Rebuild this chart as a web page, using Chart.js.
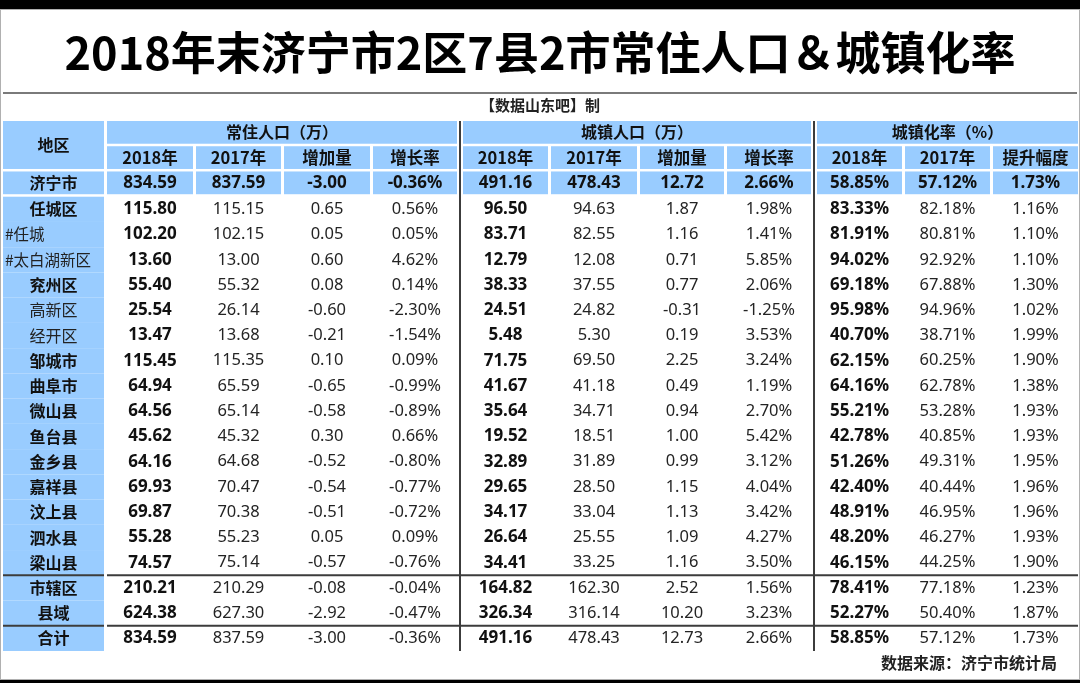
<!DOCTYPE html>
<html lang="zh-CN">
<head>
<meta charset="utf-8">
<title>2018年末济宁市2区7县2市常住人口＆城镇化率</title>
<script src="https://cdn.jsdelivr.net/npm/chart.js@4.4.1/dist/chart.umd.min.js"></script>
<style>
  html, body { margin: 0; padding: 0; background: #fff; }
  #wrap { width: 1080px; height: 683px; }
</style>
</head>
<body>
<div id="wrap"><canvas id="table" width="1080" height="683"></canvas></div>
<script>
const regions = ['济宁市', '任城区', '#任城', '#太白湖新区', '兖州区', '高新区', '经开区', '邹城市', '曲阜市',
  '微山县', '鱼台县', '金乡县', '嘉祥县', '汶上县', '泗水县', '梁山县', '市辖区', '县域', '合计'];

const groupHeaders = ['常住人口（万）', '城镇人口（万）', '城镇化率（%）'];
const subHeaders = ['2018年', '2017年', '增加量', '增长率', '2018年', '2017年', '增加量', '增长率', '2018年', '2017年', '提升幅度'];

// 常住人口（万）
const pop2018 = [834.59, 115.80, 102.20, 13.60, 55.40, 25.54, 13.47, 115.45, 64.94, 64.56, 45.62, 64.16, 69.93, 69.87, 55.28, 74.57, 210.21, 624.38, 834.59];
const pop2017 = [837.59, 115.15, 102.15, 13.00, 55.32, 26.14, 13.68, 115.35, 65.59, 65.14, 45.32, 64.68, 70.47, 70.38, 55.23, 75.14, 210.29, 627.30, 837.59];
const popChange = [-3.00, 0.65, 0.05, 0.60, 0.08, -0.60, -0.21, 0.10, -0.65, -0.58, 0.30, -0.52, -0.54, -0.51, 0.05, -0.57, -0.08, -2.92, -3.00];
const popRate = [-0.36, 0.56, 0.05, 4.62, 0.14, -2.30, -1.54, 0.09, -0.99, -0.89, 0.66, -0.80, -0.77, -0.72, 0.09, -0.76, -0.04, -0.47, -0.36];

// 城镇人口（万）
const urban2018 = [491.16, 96.50, 83.71, 12.79, 38.33, 24.51, 5.48, 71.75, 41.67, 35.64, 19.52, 32.89, 29.65, 34.17, 26.64, 34.41, 164.82, 326.34, 491.16];
const urban2017 = [478.43, 94.63, 82.55, 12.08, 37.55, 24.82, 5.30, 69.50, 41.18, 34.71, 18.51, 31.89, 28.50, 33.04, 25.55, 33.25, 162.30, 316.14, 478.43];
const urbanChange = [12.72, 1.87, 1.16, 0.71, 0.77, -0.31, 0.19, 2.25, 0.49, 0.94, 1.00, 0.99, 1.15, 1.13, 1.09, 1.16, 2.52, 10.20, 12.73];
const urbanRate = [2.66, 1.98, 1.41, 5.85, 2.06, -1.25, 3.53, 3.24, 1.19, 2.70, 5.42, 3.12, 4.04, 3.42, 4.27, 3.50, 1.56, 3.23, 2.66];

// 城镇化率（%）
const rate2018 = [58.85, 83.33, 81.91, 94.02, 69.18, 95.98, 40.70, 62.15, 64.16, 55.21, 42.78, 51.26, 42.40, 48.91, 48.20, 46.15, 78.41, 52.27, 58.85];
const rate2017 = [57.12, 82.18, 80.81, 92.92, 67.88, 94.96, 38.71, 60.25, 62.78, 53.28, 40.85, 49.31, 40.44, 46.95, 46.27, 44.25, 77.18, 50.40, 57.12];
const rateUp = [1.73, 1.16, 1.10, 1.10, 1.30, 1.02, 1.99, 1.90, 1.38, 1.93, 1.93, 1.95, 1.96, 1.96, 1.93, 1.90, 1.23, 1.87, 1.73];

const columns = [pop2018, pop2017, popChange, popRate, urban2018, urban2017, urbanChange, urbanRate, rate2018, rate2017, rateUp];
const percentCols = [3, 7, 8, 9, 10];
const boldCols = [0, 4, 8];
const subLabels = ['#任城', '#太白湖新区'];
const plainLabels = ['高新区', '经开区'];
const rowKeys = ['head1', 'head2'].concat(regions);

// layout (x scale units = pixels)
const colEdges = [3, 107, 196, 284, 373, 460, 551, 640, 727, 814, 905, 993, 1081];
const ruleCols = [5, 9];
const groupSpans = [[1, 4], [5, 8], [9, 11]];
const BLUE = '#99ccff';
const CJK = '"Noto Sans CJK SC", "Noto Sans", sans-serif';
const NUM = '"Noto Sans", "Noto Sans CJK SC", sans-serif';

function cellX(x, i) {
  const left = x.getPixelForValue(colEdges[i]) + (ruleCols.includes(i) ? 3 : 0);
  const right = x.getPixelForValue(colEdges[i + 1]) - 3;
  return [left, right];
}

function rowY(y, key) {
  const c = y.getPixelForValue(rowKeys.indexOf(key));
  const h = y.height / rowKeys.length;
  return [c - h / 2, c + h / 2];
}

function put(ctx, str, x, y, font, color, align) {
  ctx.font = font;
  ctx.fillStyle = color;
  ctx.textAlign = align || 'center';
  ctx.textBaseline = 'middle';
  ctx.fillText(str, x, y);
}

function fmt(v, col) {
  return v.toFixed(2) + (percentCols.includes(col) ? '%' : '');
}

const tablePlugin = {
  id: 'tablePlugin',
  beforeDraw(chart) {
    const ctx = chart.ctx;
    ctx.save();
    ctx.fillStyle = '#fff';
    ctx.fillRect(0, 0, chart.width, chart.height);
    ctx.fillStyle = '#000';
    ctx.fillRect(0, 0, chart.width, 9);
    ctx.fillRect(0, chart.height - 3, chart.width, 3);
    ctx.strokeStyle = '#b0b0b0';
    ctx.lineWidth = 1;
    ctx.strokeRect(0.5, 9.5, chart.width - 1, chart.height - 13);
    // rule under title
    ctx.strokeStyle = '#7a7a7a';
    ctx.lineWidth = 2;
    ctx.beginPath();
    ctx.moveTo(3, 93);
    ctx.lineTo(1077, 93);
    ctx.stroke();
    ctx.restore();
  },
  afterDraw(chart) {
    const ctx = chart.ctx;
    const x = chart.scales.x;
    const y = chart.scales.y;
    const gap = 2.5;
    ctx.save();

    // header: 地区
    const h1 = rowY(y, 'head1');
    const h2 = rowY(y, 'head2');
    let [l, r] = cellX(x, 0);
    ctx.fillStyle = BLUE;
    ctx.fillRect(l, h1[0], r - l, h2[1] - gap - h1[0]);
    put(ctx, '地区', (l + r) / 2, (h1[0] + h2[1] - gap) / 2, 'bold 16px ' + CJK, '#111');

    // group headers
    groupSpans.forEach(([a, b], g) => {
      const left = cellX(x, a)[0];
      const right = cellX(x, b)[1];
      ctx.fillStyle = BLUE;
      ctx.fillRect(left, h1[0], right - left, h1[1] - h1[0] - gap);
      put(ctx, groupHeaders[g], (left + right) / 2, (h1[0] + h1[1] - gap) / 2, 'bold 16px ' + CJK, '#111');
    });

    // sub headers
    subHeaders.forEach((s, i) => {
      const [cl, cr] = cellX(x, i + 1);
      ctx.fillStyle = BLUE;
      ctx.fillRect(cl, h2[0], cr - cl, h2[1] - h2[0] - gap);
      put(ctx, s, (cl + cr) / 2, (h2[0] + h2[1] - gap) / 2, 'bold 16.5px ' + CJK, '#111');
    });

    // rows
    regions.forEach((name, ri) => {
      const [top, bottom] = rowY(y, name);
      const isTotalRow = ri === 0;
      const g = isTotalRow ? gap : 0;
      const mid = (top + bottom - g) / 2;
      const [ll, lr] = cellX(x, 0);
      ctx.fillStyle = BLUE;
      ctx.fillRect(ll, top, lr - ll, bottom - top - g);
      if (subLabels.includes(name)) {
        put(ctx, name, ll + 2, mid, '15.5px ' + CJK, '#222', 'left');
      } else if (plainLabels.includes(name)) {
        put(ctx, name, (ll + lr) / 2, mid, '16px ' + CJK, '#222');
      } else {
        put(ctx, name, (ll + lr) / 2, mid, 'bold 16px ' + CJK, '#111');
      }
      columns.forEach((vals, ci) => {
        const [cl, cr] = cellX(x, ci + 1);
        if (isTotalRow) {
          ctx.fillStyle = BLUE;
          ctx.fillRect(cl, top, cr - cl, bottom - top - g);
        }
        const bold = isTotalRow || boldCols.includes(ci);
        put(ctx, fmt(vals[ri], ci), (cl + cr) / 2, mid,
          (bold ? 'bold 17px ' : '16.5px ') + NUM, bold ? '#111' : '#242424');
      });
    });

    // dark rules
    ctx.strokeStyle = '#3c3c3c';
    ctx.lineWidth = 2;
    ruleCols.forEach(ci => {
      const px = x.getPixelForValue(colEdges[ci]);
      ctx.beginPath();
      ctx.moveTo(px, h1[0]);
      ctx.lineTo(px, chart.chartArea.bottom);
      ctx.stroke();
    });
    ['市辖区', '合计'].forEach(name => {
      const py = rowY(y, name)[0];
      const a = cellX(x, 0);
      ctx.beginPath();
      ctx.moveTo(a[0], py);
      ctx.lineTo(a[1], py);
      ctx.moveTo(x.getPixelForValue(colEdges[1]), py);
      ctx.lineTo(x.getPixelForValue(colEdges[12]) - 3, py);
      ctx.stroke();
    });

    // source
    put(ctx, '数据来源：济宁市统计局', 1057, 663, 'bold 16px ' + CJK, '#222', 'right');
    ctx.restore();
  }
};

new Chart(document.getElementById('table'), {
  type: 'scatter',
  data: { labels: rowKeys, datasets: [] },
  options: {
    responsive: false,
    animation: false,
    devicePixelRatio: 1,
    layout: { padding: { top: 0, bottom: 32, left: 0, right: 0 } },
    scales: {
      x: { type: 'linear', min: 0, max: 1080, display: false },
      y: { type: 'category', labels: rowKeys, offset: true, display: false }
    },
    plugins: {
      legend: { display: false },
      tooltip: { enabled: false },
      title: {
        display: true,
        text: '2018年末济宁市2区7县2市常住人口＆城镇化率',
        color: '#000',
        font: { family: CJK, size: 45, weight: 'bold', lineHeight: 1.2 },
        padding: { top: 26, bottom: 0 }
      },
      subtitle: {
        display: true,
        text: '【数据山东吧】制',
        color: '#222',
        font: { family: CJK, size: 15, weight: 'bold', lineHeight: 1.2 },
        padding: { top: 16, bottom: 7 }
      }
    }
  },
  plugins: [tablePlugin]
});
</script>
</body>
</html>
